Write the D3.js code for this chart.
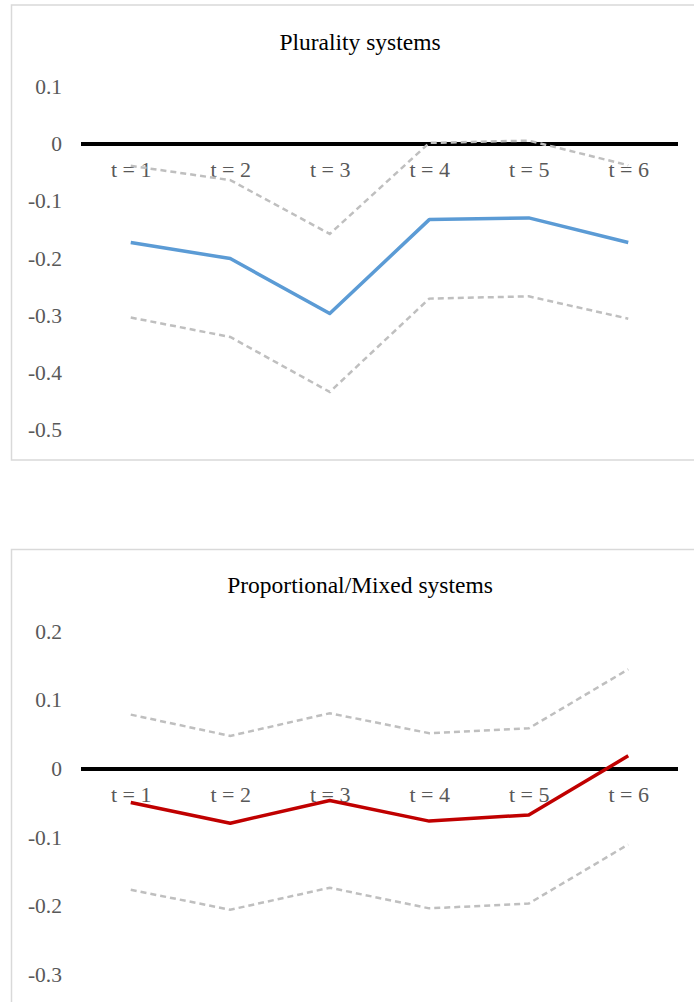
<!DOCTYPE html>
<html>
<head>
<meta charset="utf-8">
<script src="https://cdn.jsdelivr.net/npm/d3@7"></script>
<style>
  body { margin: 0; background: #fff; }
  svg { display: block; }
</style>
</head>
<body>
<svg id="chart" width="694" height="1002"></svg>
<script>
'use strict';

// categories on the x axis
let periods = ["t = 1", "t = 2", "t = 3", "t = 4", "t = 5", "t = 6"];

// plurality systems: estimate and confidence bounds
let pluralityEst   = [-0.172, -0.200, -0.296, -0.132, -0.129, -0.172];
let pluralityUpper = [-0.038, -0.063, -0.157, 0.002, 0.006, -0.037];
let pluralityLower = [-0.303, -0.337, -0.433, -0.270, -0.266, -0.305];

// proportional/mixed systems
let propEst   = [-0.049, -0.079, -0.046, -0.076, -0.067, 0.019];
let propUpper = [0.079, 0.048, 0.081, 0.052, 0.059, 0.145];
let propLower = [-0.176, -0.205, -0.173, -0.203, -0.196, -0.110];

// y tick labels
let pluralityTicks = [0.1, 0, -0.1, -0.2, -0.3, -0.4, -0.5];
let propTicks = [0.2, 0.1, 0, -0.1, -0.2, -0.3];

let font = "'Liberation Serif', 'Times New Roman', serif";

function drawPanel(svg, cfg) {
    let g = svg.append("g").attr("transform", "translate(0," + cfg.top + ")");

    // chart frame
    g.append("rect")
        .attr("x", 11.5).attr("y", 0)
        .attr("width", 700).attr("height", 455)
        .attr("fill", "#fff")
        .attr("stroke", "#d9d9d9")
        .attr("stroke-width", 1.5);

    g.append("text")
        .attr("x", 360).attr("y", cfg.titleY)
        .attr("text-anchor", "middle")
        .style("font-family", font)
        .style("font-size", "23.5px")
        .attr("fill", "#000")
        .text(cfg.title);

    let xScale = d3.scalePoint()
        .domain(periods)
        .range([81, 678])
        .padding(0.5);

    let yScale = d3.scaleLinear()
        .domain(d3.extent(cfg.ticks))
        .range([cfg.plotBottom, cfg.plotBottom - 343.5]);

    // y axis labels
    g.selectAll(".ylab")
        .data(cfg.ticks)
        .enter().append("text")
        .attr("class", "ylab")
        .attr("x", 62)
        .attr("y", d => yScale(d) + 7)
        .attr("text-anchor", "end")
        .style("font-family", font)
        .style("font-size", "21.5px")
        .attr("fill", "#595959")
        .text(d => d === 0 ? "0" : String(+d.toFixed(1)));

    // category axis at zero
    let xAxis = d3.axisBottom(xScale).tickSize(0).tickPadding(0);
    let ax = g.append("g")
        .attr("transform", "translate(0," + yScale(0) + ")")
        .call(xAxis);
    ax.select(".domain")
        .attr("d", "M81,0H678")
        .attr("stroke", "#000")
        .attr("stroke-width", 4);
    ax.selectAll(".tick text")
        .attr("y", 33)
        .attr("dy", null)
        .style("font-family", font)
        .style("font-size", "22px")
        .attr("fill", "#595959");

    let line = d3.line()
        .x((d, i) => xScale(periods[i]))
        .y(d => yScale(d));

    [cfg.upper, cfg.lower].forEach(s => {
        g.append("path")
            .attr("d", line(s))
            .attr("fill", "none")
            .attr("stroke", "#bfbfbf")
            .attr("stroke-width", 2.5)
            .attr("stroke-dasharray", "6,4");
    });

    g.append("path")
        .attr("d", line(cfg.est))
        .attr("fill", "none")
        .attr("stroke", cfg.color)
        .attr("stroke-width", 3.5)
        .attr("stroke-linejoin", "round");
}

let svg = d3.select("#chart");

drawPanel(svg, {
    top: 5, title: "Plurality systems", titleY: 45,
    ticks: pluralityTicks, plotBottom: 425.3,
    est: pluralityEst, upper: pluralityUpper, lower: pluralityLower,
    color: "#5b9bd5"
});

drawPanel(svg, {
    top: 549.5, title: "Proportional/Mixed systems", titleY: 43,
    ticks: propTicks, plotBottom: 425.5,
    est: propEst, upper: propUpper, lower: propLower,
    color: "#c00000"
});
</script>
</body>
</html>
